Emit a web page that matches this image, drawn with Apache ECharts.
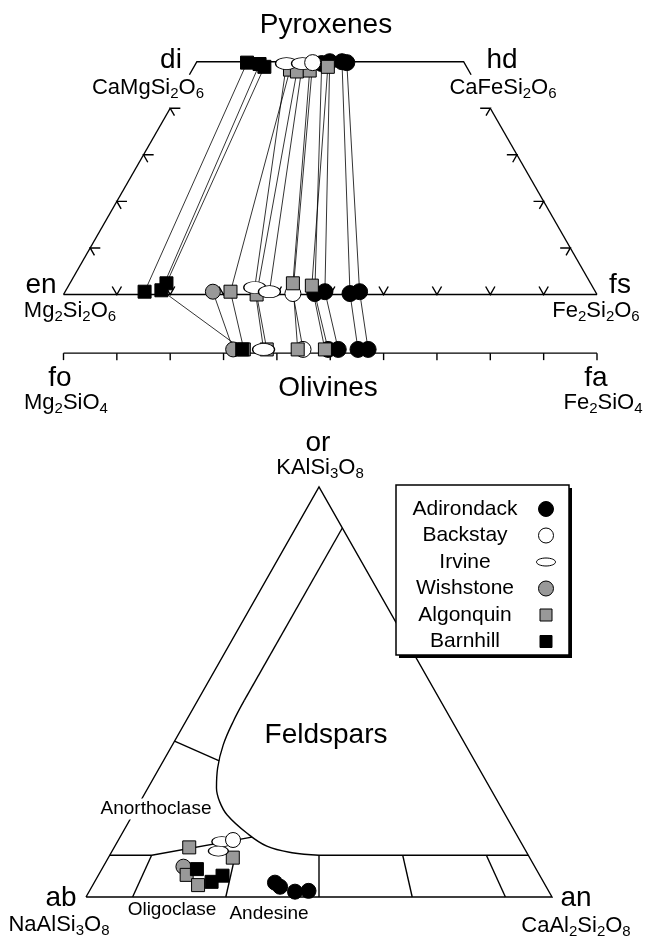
<!DOCTYPE html>
<html><head><meta charset="utf-8">
<script src="https://cdn.jsdelivr.net/npm/echarts@6/dist/echarts.min.js"></script>
<style>html,body{margin:0;padding:0;background:#fff}#c{width:645px;height:940px}</style>
</head><body><div id="c"></div>
<script>
// ---------------- data ----------------
const rocks = ['Adirondack','Backstay','Irvine','Wishstone','Algonquin','Barnhill'];
// High-Ca pyroxene [Fs %, Wo %]
const adirondackAug = [[23.6,49.6],[24.9,50.0],[27.2,50.0],[28.2,49.8]];
const backstayAug   = [[21.8,49.8]];
const irvineAug     = [[17.0,49.6],[20.0,49.6]];
const wishstoneAug  = [null];
const algonquinAug  = [[18.3,48.3],[19.8,47.9],[22.1,48.1],[25.1,48.9]];
const barnhillAug   = [[9.5,49.8],[12.0,49.5],[13.2,48.9]];
// Low-Ca pyroxene [Fs %, Wo %]
const adirondackOpx = [[47.0,0.2],[48.7,0.6],[53.6,0.2],[55.2,0.6]];
const backstayOpx   = [[42.9,0.2]];
const irvineOpx     = [[35.1,1.5],[38.3,0.6]];
const wishstoneOpx  = [[27.7,0.6]];
const algonquinOpx  = [[31.0,0.6],[36.2,0.0],[41.8,2.4],[45.6,1.9]];
const barnhillOpx   = [[14.9,0.6],[17.9,0.9],[18.1,2.4]];
// Olivine [Fa %]
const adirondackOl = [49.6,51.5,55.2,57.1];
const backstayOl   = [44.9];
const irvineOl     = [37.5,null];
const wishstoneOl  = [31.8];
const algonquinOl  = [33.8,38.1,43.9,49.0];
const barnhillOl   = [null,33.5,null];
// Feldspar [An %, Or %]
const adirondackFsp = [[38.8,3.5],[40.4,2.5],[44.2,1.3],[47.0,1.5]];
const backstayFsp   = [[24.6,13.9]];
const irvineFsp     = [[22.4,13.5],[22.8,11.2]];
const wishstoneFsp  = [[17.2,7.4]];
const algonquinFsp  = [[16.1,12.1],[26.7,9.6],[18.9,5.4],[22.6,2.9]];
const barnhillFsp   = [[20.4,6.8],[25.1,3.7],[26.7,5.2]];
// Diagram axes
const baseTicks = [10,20,30,40,50,60,70,80,90];
const sideTicks = [10,20,30,40];
const olTicks = [0,10,20,30,40,50,60,70,80,90,100];
// Feldspar field boundaries [An %, Or %]
const fspInnerLine = [[10,90],[10,48]];
const fspCurve = [[10,48],[10.2,42.7],[10.9,37.1],[12.5,31.5],[14.7,26.6],[17.1,23.2],[20.3,20.0],[26.7,15.6],[32.6,12.4],[38.8,10.8],[44.9,10.2]];
const fspPlagTop = [[44.9,10.2],[89.8,10.2]];
const fspAlkLine = [[0,10.2],[9.0,10.2],[28.3,14.6]];
const fspAnorthLine = [[0,38.0],[12.0,33.2]];
const plagRatios = [0.1,0.3,0.5,0.7,0.9];
const plagOr = 10.2;

// ---------------- helpers ----------------
const augAll = [adirondackAug,backstayAug,irvineAug,wishstoneAug,algonquinAug,barnhillAug];
const opxAll = [adirondackOpx,backstayOpx,irvineOpx,wishstoneOpx,algonquinOpx,barnhillOpx];
const olAll  = [adirondackOl,backstayOl,irvineOl,wishstoneOl,algonquinOl,barnhillOl];
const fspAll = [adirondackFsp,backstayFsp,irvineFsp,wishstoneFsp,algonquinFsp,barnhillFsp];
const OL_LINE = -12.6, OL_MARK = -11.8;
const tern = p => [p[0] + p[1]/2, p[1]];          // ternary -> cartesian
const olPt = fa => [fa, OL_MARK];
const FONT = "'Liberation Sans', Arial, Helvetica, sans-serif";
const ELLIPSE = 'path://M0,50 A100,50 0 1,1 200,50 A100,50 0 1,1 0,50 Z';
const symType = ['circle','circle',ELLIPSE,'circle','rect','rect'];
const fills = ['#000','#fff','#fff','#999','#999','#000'];
const pyxSize = [16,16,[22,12],15,13,13];
const fspSize = [15,15,[20,10],15,13,13];
const orderAug = ['Adirondack','Wishstone','Algonquin','Irvine','Backstay','Barnhill'];
const orderOpx = ['Adirondack','Backstay','Wishstone','Algonquin','Irvine','Barnhill'];
const orderOl  = ['Adirondack','Backstay','Wishstone','Algonquin','Irvine','Barnhill'];
const orderFsp = ['Adirondack','Wishstone','Algonquin','Irvine','Backstay','Barnhill'];

function linesSeries(grid, polys, width, z) {
  return {type:'lines', coordinateSystem:'cartesian2d', xAxisIndex:grid, yAxisIndex:grid,
    polyline:true, silent:true, z:z, clip:false, animation:false,
    lineStyle:{color:'#000', width:width, opacity:1},
    data: polys.map(c => ({coords:c}))};
}
function scatter(grid, i, pts, size, z) {
  return {type:'scatter', name:rocks[i], xAxisIndex:grid, yAxisIndex:grid, clip:false,
    symbol:symType[i], symbolSize:size[i], z:z, silent:true, animation:false,
    itemStyle:{color:fills[i], borderColor:'#000', borderWidth:1, opacity:1},
    data: pts};
}

// ---------------- pyroxene / olivine frame ----------------
const pyxFrame = [
  [[0,0],[100,0]],
  [[0,0],[20,40]],
  [[23.6,47.2],[25,50],[75,50],[76.4,47.2]],
  [[80,40],[100,0]],
  [[0,OL_LINE],[100,OL_LINE]]
];
baseTicks.forEach(t => pyxFrame.push([[t-0.87,1.72],[t,0],[t+0.87,1.72]]));
sideTicks.forEach(w => {
  const xl = w/2, xr = 100 - w/2;
  pyxFrame.push([[xl+1.9,w],[xl,w],[xl+0.8,w-1.6]]);
  pyxFrame.push([[xr-1.9,w],[xr,w],[xr-0.8,w-1.6]]);
});
olTicks.forEach(t => pyxFrame.push([[t,OL_LINE],[t,OL_LINE-1.5]]));

// tie lines
const ties = [];
rocks.forEach((r,i) => {
  const a = augAll[i], o = opxAll[i], l = olAll[i];
  for (let j = 0; j < Math.max(a.length,o.length,l.length); j++) {
    if (a[j] && o[j]) ties.push([tern(a[j]), tern(o[j])]);
    if (o[j] && l[j] != null) ties.push([tern(o[j]), olPt(l[j])]);
  }
});

// ---------------- feldspar frame ----------------
const fspFrame = [
  [[0,0],[100,0],[0,100],[0,0]].map(tern),
  fspInnerLine.map(tern),
  fspPlagTop.map(tern),
  fspAlkLine.map(tern),
  fspAnorthLine.map(tern)
];
plagRatios.forEach(r => fspFrame.push([[100*r,0],[(100-plagOr)*r,plagOr]].map(tern)));

const series = [
  linesSeries(0, pyxFrame, 1.4, 1),
  linesSeries(0, ties, 0.8, 2),
  linesSeries(1, fspFrame, 1.4, 1),
  {type:'line', xAxisIndex:1, yAxisIndex:1, data: fspCurve.map(tern), smooth:0.4, symbol:'none',
   silent:true, clip:false, animation:false, z:1, lineStyle:{color:'#000', width:1.4}}
];
rocks.forEach((r,i) => {
  series.push(scatter(0, i, augAll[i].filter(p=>p).map(tern), pyxSize, 10 + orderAug.indexOf(r)));
  series.push(scatter(0, i, opxAll[i].map(tern), pyxSize, 20 + orderOpx.indexOf(r)));
  series.push(scatter(0, i, olAll[i].filter(v=>v!=null).map(olPt), pyxSize, 20 + orderOl.indexOf(r)));
  series.push(scatter(1, i, fspAll[i].map(tern), fspSize, 10 + orderFsp.indexOf(r)));
});

// ---------------- text ----------------
function fm(s) { return s.replace(/([A-Za-z]+)|(\d)/g, (m,a,d) => a ? '{n|'+a+'}' : '{s|'+d+'}'); }
const richF = {n:{fontSize:22, fontFamily:FONT, lineHeight:24, verticalAlign:'top'},
               s:{fontSize:15, fontFamily:FONT, lineHeight:12, verticalAlign:'bottom'}};
function txt(t, x, y, size, extra) {
  return Object.assign({type:'text', x:x, y:y, z:100, silent:true,
    style:Object.assign({text:t, fill:'#000', fontSize:size, fontFamily:FONT, align:'center', verticalAlign:'middle'}, extra||{})});
}
function formula(t, x, y) {
  return {type:'text', x:x, y:y, z:100, silent:true,
    style:{text:fm(t), fill:'#000', fontSize:22, fontFamily:FONT, align:'center', verticalAlign:'middle', rich:richF}};
}
const graphics = [
  txt('Pyroxenes', 326, 25, 28),
  txt('di', 171, 60, 28), formula('CaMgSi2O6', 148, 89),
  txt('hd', 502, 60, 28), formula('CaFeSi2O6', 503, 89),
  txt('en', 41, 285, 28), formula('Mg2Si2O6', 70, 312),
  txt('fs', 620, 285, 28), formula('Fe2Si2O6', 596, 312),
  txt('fo', 60, 378, 28), formula('Mg2SiO4', 66, 404),
  txt('fa', 596, 378, 28), formula('Fe2SiO4', 603, 404),
  txt('Olivines', 328, 388, 28),
  txt('or', 318, 443, 28), formula('KAlSi3O8', 320, 469),
  txt('ab', 61, 898, 28), formula('NaAlSi3O8', 59, 926),
  txt('an', 576, 898, 28), formula('CaAl2Si2O8', 576, 927),
  txt('Feldspars', 326, 735, 28),
  txt('Anorthoclase', 156, 809, 19, {backgroundColor:'#fff', padding:[1,2]}),
  txt('Oligoclase', 172, 910, 19),
  txt('Andesine', 269, 914, 19),
  // legend box
  {type:'rect', z:90, silent:true, shape:{x:399, y:488, width:173, height:170}, style:{fill:'#000'}},
  {type:'rect', z:91, silent:true, shape:{x:396, y:485, width:173, height:170}, style:{fill:'#fff', stroke:'#000', lineWidth:1.5}}
];
rocks.forEach((r,i) => {
  const y = 509 + i*26.5;
  graphics.push(txt(r, 465, y, 21));
  const st = {fill:fills[i], stroke:'#000', lineWidth:1};
  if (i === 2) graphics.push({type:'ellipse', z:100, silent:true, shape:{cx:546, cy:y, rx:9.5, ry:4}, style:st});
  else if (symType[i] === 'circle') graphics.push({type:'circle', z:100, silent:true, shape:{cx:546, cy:y, r:7.5}, style:st});
  else graphics.push({type:'rect', z:100, silent:true, shape:{x:540, y:y-6, width:12, height:12}, style:st});
});

const chart = echarts.init(document.getElementById('c'), null, {renderer:'canvas'});
chart.setOption({
  animation:false,
  backgroundColor:'#fff',
  grid:[{left:63.5, top:61.7, width:533.5, height:325.9},
        {left:86, top:487, width:466, height:410}],
  xAxis:[{gridIndex:0, type:'value', min:0, max:100, show:false},
         {gridIndex:1, type:'value', min:0, max:100, show:false}],
  yAxis:[{gridIndex:0, type:'value', min:-20, max:50, show:false},
         {gridIndex:1, type:'value', min:0, max:100, show:false}],
  series: series,
  graphic: graphics
});
</script></body></html>
